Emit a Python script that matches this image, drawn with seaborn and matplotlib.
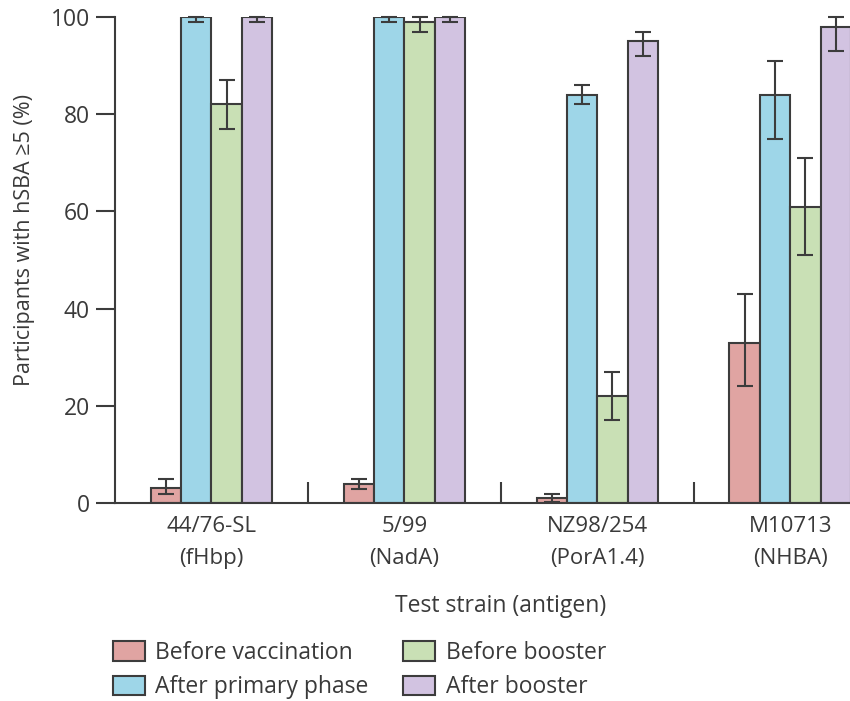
import numpy as np
import pandas as pd
import matplotlib
matplotlib.use("Agg")
import matplotlib.pyplot as plt
import seaborn as sns

# Test strains (antigen) and vaccination phases
strains = ["44/76-SL\n(fHbp)", "5/99\n(NadA)", "NZ98/254\n(PorA1.4)", "M10713\n(NHBA)"]
phases = ["Before vaccination", "After primary phase", "Before booster", "After booster"]

# Percentage of participants with hSBA >= 5, per phase (one value per strain)
before_vacc = [3, 4, 1, 33]
after_primary = [100, 100, 84, 84]
before_booster = [82, 99, 22, 61]
after_booster = [100, 100, 95, 98]

# 95% CI bounds
before_vacc_lo = [1.8, 2.9, 0.3, 24]
before_vacc_hi = [5, 4.9, 1.8, 43]
after_primary_lo = [99, 99, 82, 75]
after_primary_hi = [100, 100, 86, 91]
before_booster_lo = [77, 97, 17, 51]
before_booster_hi = [87, 100, 27, 71]
after_booster_lo = [99, 99, 92, 93]
after_booster_hi = [100, 100, 97, 100]

colors = ["#e0a4a2", "#9ed6e8", "#c9e0b5", "#d2c3e1"]

values = [before_vacc, after_primary, before_booster, after_booster]
lows = [before_vacc_lo, after_primary_lo, before_booster_lo, after_booster_lo]
highs = [before_vacc_hi, after_primary_hi, before_booster_hi, after_booster_hi]

rows = []
for p, vals, los, his in zip(phases, values, lows, highs):
    for s, v, lo, hi in zip(strains, vals, los, his):
        rows.append({"strain": s, "phase": p, "value": v, "lo": lo, "hi": hi})
df = pd.DataFrame(rows)

sns.set_style("ticks")
plt.rcParams["font.family"] = ["Open Sans", "DejaVu Sans"]
text_color = "#3a3a3a"
edge = "#3c3c3c"

fig = plt.figure(figsize=(8.5, 7.01), dpi=100)
ax = fig.add_axes([115 / 850, 1 - 503 / 701, 1 - 115 / 850, (503 - 17) / 701])

sns.barplot(data=df, x="strain", y="value", hue="phase", hue_order=phases,
            order=strains, palette=colors, width=0.63, errorbar=None,
            edgecolor=edge, linewidth=1.5, saturation=1, ax=ax, legend=True)

# Error bars at the centre of each bar
for container, p in zip(ax.containers, phases):
    sub = df[df.phase == p].set_index("strain").loc[strains]
    xs = [b.get_x() + b.get_width() / 2 for b in container]
    ys = sub["value"].values
    yerr = np.vstack([ys - sub["lo"].values, sub["hi"].values - ys])
    ax.errorbar(xs, ys, yerr=yerr, fmt="none", ecolor=edge, elinewidth=1.5,
                capsize=6, capthick=1.5, clip_on=False, zorder=5)

ax.set_xlim(-0.5, 3.31)
ax.set_ylim(0, 100)
ax.set_yticks([0, 20, 40, 60, 80, 100])
ax.tick_params(axis="y", direction="out", length=14, width=1.5, color=edge,
               labelsize=16.5, labelcolor=text_color, pad=4)
ax.tick_params(axis="x", which="major", length=0, labelsize=16,
               labelcolor=text_color, pad=9)
for lbl in ax.get_xticklabels():
    lbl.set_linespacing(1.7)
ax.set_xticks([0.5, 1.5, 2.5], minor=True)
ax.tick_params(axis="x", which="minor", direction="in", length=15, width=1.5,
               color=edge)

for side in ["top", "right"]:
    ax.spines[side].set_visible(False)
for side in ["left", "bottom"]:
    ax.spines[side].set_linewidth(1.5)
    ax.spines[side].set_color(edge)

ax.set_ylabel("")
ax.set_xlabel("")
fig.text(25 / 850, 1 - 240 / 701, "Participants with hSBA \u22655 (%)", rotation=90,
         ha="center", va="center", fontsize=15.5, color=text_color)
fig.text(501 / 850, 1 - 606 / 701, "Test strain (antigen)", ha="center",
         va="center", fontsize=16.5, color=text_color)

handles, labels = ax.get_legend_handles_labels()
ax.get_legend().remove()
fig.legend(handles, labels, loc="upper left", bbox_to_anchor=(113 / 850, 1 - 641 / 701),
           ncol=2, frameon=False, fontsize=16.5, handlelength=1.4, handleheight=0.95,
           columnspacing=1.5, labelspacing=0.45, handletextpad=0.45,
           borderpad=0, borderaxespad=0, labelcolor=text_color)

fig.savefig("out.png", dpi=100)
